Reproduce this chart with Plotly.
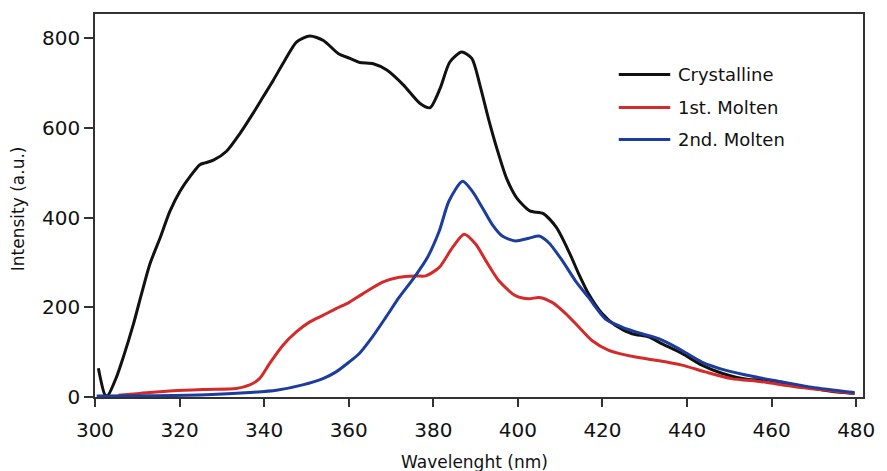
import plotly.graph_objects as go

# ---- data ----
wl_cryst = [300.8, 302.4, 303.0, 305.1, 306.7, 309.1, 311.0, 313.0, 315.4, 317.7, 320.1, 322.5,
            324.8, 326.0, 328.0, 331.1, 334.3, 337.4, 339.8, 342.2, 344.9, 347.7, 350.8, 354.0,
            357.5, 360.3, 362.6, 365.8, 369.0, 372.9, 376.8, 379.2, 381.6, 383.9, 386.7, 389.1,
            391.0, 393.0, 395.0, 397.3, 399.7, 402.8, 406.0, 409.1, 412.3, 414.4, 416.7, 419.9,
            423.0, 427.0, 430.9, 434.0, 438.8, 443.5, 448.2, 454.5, 459.2, 467.0, 474.1, 479.6]
int_cryst = [64, 4, 3, 45, 89, 163, 230, 297, 355, 414, 459, 492,
             518, 522, 528, 548, 588, 633, 670, 707, 751, 792, 805, 795,
             766, 755, 746, 743, 729, 696, 655, 645, 688, 747, 769, 755,
             696, 622, 555, 488, 444, 415, 409, 378, 319, 274, 230, 186,
             160, 141, 134, 119, 97, 71, 53, 39, 38, 24, 13, 8]

wl_m1 = [305.5, 310.6, 318.5, 326.3, 333.4, 336.6, 338.9, 341.3, 344.4, 347.6, 350.7, 353.9,
         357.0, 360.1, 363.3, 368.0, 371.9, 375.8, 378.2, 381.4, 384.5, 387.3, 390.0, 392.4,
         395.5, 399.4, 402.6, 405.0, 408.1, 411.3, 414.4, 417.5, 421.5, 427.8, 432.5, 438.8,
         444.3, 450.5, 457.6, 465.5, 474.1, 479.6]
int_m1 = [4, 8, 14, 17, 19, 27, 41, 75, 115, 145, 167, 182,
          197, 211, 230, 256, 267, 270, 270, 289, 333, 363, 341, 304,
          259, 226, 219, 222, 211, 186, 156, 126, 104, 89, 82, 71,
          56, 41, 34, 23, 14, 8]

wl_m2 = [300.4, 314.6, 326.3, 336.6, 342.9, 349.1, 353.9, 357.0, 360.1, 362.5, 365.6, 368.8,
         371.9, 375.5, 378.6, 381.4, 383.7, 386.9, 389.2, 391.6, 393.9, 396.3, 399.4, 402.6,
         405.0, 407.3, 410.5, 413.6, 416.7, 420.7, 424.6, 429.3, 433.3, 438.0, 443.5, 449.0,
         456.0, 462.3, 469.4, 479.6]
int_m2 = [2, 3, 5, 10, 15, 27, 41, 56, 78, 97, 134, 178,
          222, 267, 311, 370, 437, 481, 459, 422, 385, 359, 348, 354,
          359, 344, 304, 259, 222, 174, 156, 141, 130, 108, 78, 60,
          45, 34, 22, 10]

series_names = ["Crystalline", "1st. Molten", "2nd. Molten"]
series_colors = ["#111111", "#d42a2a", "#1c3c9e"]
x_ticks = [300, 320, 340, 360, 380, 400, 420, 440, 460, 480]
y_ticks = [0, 200, 400, 600, 800]

FONT = "DejaVu Sans"

fig = go.Figure()
for wl, iv, name, col in zip([wl_cryst, wl_m1, wl_m2], [int_cryst, int_m1, int_m2],
                             series_names, series_colors):
    fig.add_trace(go.Scatter(x=wl, y=iv, mode="lines", name=name,
                             line=dict(color=col, width=3, shape="spline", smoothing=0.7),
                             showlegend=False))

# legend drawn manually (paper coords)
leg_y = [0.842, 0.756, 0.672]
for yy, name, col in zip(leg_y, series_names, series_colors):
    fig.add_shape(type="line", xref="paper", yref="paper", x0=0.682, x1=0.749, y0=yy, y1=yy,
                  line=dict(color=col, width=3))
    fig.add_annotation(xref="paper", yref="paper", x=0.756, y=yy, text=name, showarrow=False,
                       xanchor="left", yanchor="middle", font=dict(family=FONT, size=18, color="#111"))

# axis titles
fig.add_annotation(xref="paper", yref="paper", x=(475 - 95) / 770, y=(397 - 462) / 385,
                   text="Wavelenght (nm)", showarrow=False, xanchor="center", yanchor="middle",
                   font=dict(family=FONT, size=17, color="#111"))
fig.add_annotation(xref="paper", yref="paper", x=(18 - 95) / 770, y=(397 - 208) / 385,
                   text="Intensity (a.u.)", showarrow=False, textangle=-90,
                   xanchor="center", yanchor="middle",
                   font=dict(family=FONT, size=17, color="#111"))

axcol = "#333333"
fig.update_layout(
    width=887, height=471,
    margin=dict(l=95, r=22, t=12, b=74),
    paper_bgcolor="white", plot_bgcolor="white",
    font=dict(family=FONT, size=20, color="#111"),
    xaxis=dict(range=[300, 481.6], tickvals=x_ticks, ticks="outside", ticklen=8, tickwidth=1.5,
               tickcolor=axcol, showline=True, linecolor=axcol, linewidth=1.5, mirror=True,
               showgrid=False, zeroline=False, tickfont=dict(size=20), ticklabelstandoff=6),
    yaxis=dict(range=[0, 854], tickvals=y_ticks, ticks="outside", ticklen=9, tickwidth=1.5,
               tickcolor=axcol, showline=True, linecolor=axcol, linewidth=1.5, mirror=True,
               showgrid=False, zeroline=False, tickfont=dict(size=20)),
)

fig.write_html("out.html")
